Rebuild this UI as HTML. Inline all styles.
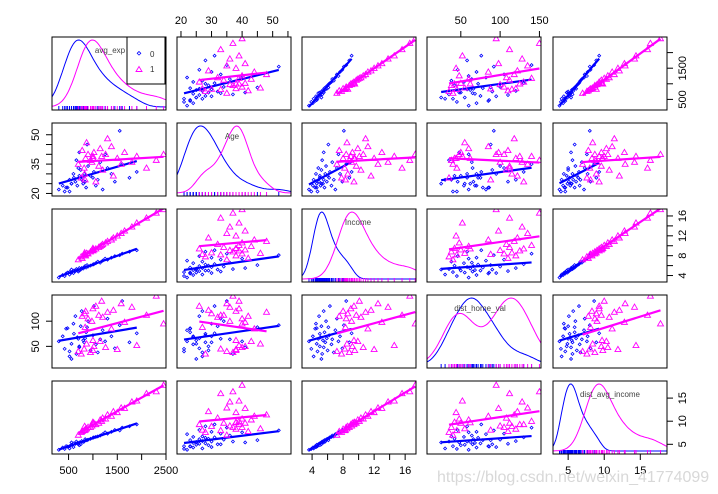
<!DOCTYPE html>
<html><head><meta charset="utf-8"><style>
html,body{margin:0;padding:0;background:#fff;}
svg{display:block;font-family:"Liberation Sans",Arial,sans-serif;}
</style></head><body>
<svg id="chart" width="718" height="494" viewBox="0 0 718 494" xmlns="http://www.w3.org/2000/svg"></svg>
<script>
// ---- data ----
const varNames = ["avg_exp","Age","Income","dist_home_val","dist_avg_income"];
const exp0 = [300,420,380,520,450,600,560,520,700,640,610,720,680,750,660,800,770,720,860,820,900,840,950,880,1000,1020,1060,1150,1100,1200,1300,1250,1380,1450,1550,1600,1750,1900,560,480];
const age0 = [22,21,24,27,23,30,25,21,33,26,28,29,24,32,37,25,27,41,23,30,34,26,29,45,28,31,24,36,27,22,33,40,30,26,52,35,28,31,25,23];
const inc0 = [3.6,3.9,4.1,4.2,4.4,4.5,4.6,4.7,4.8,4.9,5.0,5.0,5.1,5.2,5.3,5.4,5.5,5.5,5.6,5.7,5.8,5.9,6.0,6.1,6.2,6.3,6.5,6.6,6.8,7.0,7.2,7.4,7.6,7.9,8.1,8.4,8.8,9.1,5.2,4.6];
const dhv0 = [60,45,70,30,85,95,55,40,65,110,75,50,68,90,35,62,120,48,78,58,100,66,42,88,72,130,54,64,38,82,105,60,70,46,92,140,58,76,25,86];
const dai0 = [3.8,4.0,4.3,4.1,4.6,4.4,4.9,4.6,5.0,5.1,5.2,4.8,5.3,5.0,5.6,5.5,5.7,5.4,5.9,5.6,6.0,6.1,6.2,5.9,6.4,6.5,6.6,6.9,6.7,7.2,7.3,7.6,7.7,8.1,8.0,8.6,8.9,9.3,5.4,4.5];
const exp1 = [700,780,760,850,820,900,870,830,950,1000,980,1020,1060,1000,1120,1150,1180,1200,1260,1300,1380,1420,1500,1580,1650,1800,1900,2100,2300,2450,840,1000];
const age1 = [35,42,28,38,33,40,46,30,37,39,36,41,26,38,34,43,39,32,40,48,44,29,38,35,41,36,39,33,37,40,27,38];
const inc1 = [7.2,7.5,7.8,8.0,8.2,8.4,8.5,8.6,8.8,9.0,9.1,9.2,9.4,9.5,9.7,9.9,10.1,10.3,10.6,10.9,11.2,11.6,12.0,12.5,13.0,13.8,14.6,15.6,16.6,17.3,8.3,9.4];
const dhv1 = [40,110,35,120,45,105,55,115,38,125,100,50,130,42,112,60,140,108,48,118,85,122,44,135,98,128,52,112,150,95,88,62];
const dai1 = [7.0,7.8,7.6,8.3,8.0,8.7,8.4,8.9,8.7,9.3,9.0,9.6,9.3,9.8,9.6,10.3,10.0,10.7,10.5,11.4,11.1,12.1,11.9,12.9,12.8,14.2,14.4,16.0,16.4,17.8,8.1,9.7];
const ranges = [[160,2500],[18.7,56],[2.7,17.4],[7,152],[2.9,18.7]];
const ticksExp = [500,1000,1500,2000,2500];
const ticksAge = [20,25,30,35,40,45,50,55];
const ticksInc = [4,6,8,10,12,14,16];
const ticksDhv = [50,100,150];
const ticksDai = [5,10,15];

const g0 = [exp0,age0,inc0,dhv0,dai0];
const g1 = [exp1,age1,inc1,dhv1,dai1];
const BLUE="#0000ff", MAG="#ff00ff";
const colX=[52,177,302,427,553], rowY=[37,123,209,295,381], PW=114, PH=73;
const svg=document.getElementById('chart');
const NS="http://www.w3.org/2000/svg";
function mk(tag,attrs,parent){const e=document.createElementNS(NS,tag);for(const k in attrs)e.setAttribute(k,attrs[k]);(parent||svg).appendChild(e);return e;}
function sx(v,c){const r=ranges[c];return colX[c]+(v-r[0])/(r[1]-r[0])*PW;}
function sy(v,r){const g=ranges[r];return rowY[r]+PH-(v-g[0])/(g[1]-g[0])*PH;}
function clip(id,r,c){const cp=mk('clipPath',{id:id});mk('rect',{x:colX[c],y:rowY[r],width:PW,height:PH},cp);}

function lm(x,y){const n=x.length;let mx=0,my=0;for(let i=0;i<n;i++){mx+=x[i];my+=y[i];}mx/=n;my/=n;let sxy=0,sxx=0;for(let i=0;i<n;i++){sxy+=(x[i]-mx)*(y[i]-my);sxx+=(x[i]-mx)**2;}const b=sxy/sxx;return [my-b*mx,b];}
function kde(d,x){const n=d.length;const m=d.reduce((a,b)=>a+b)/n;const sd=Math.sqrt(d.reduce((a,b)=>a+(b-m)**2,0)/(n-1));const h=1.0*sd*Math.pow(n,-0.2);let s=0;for(const v of d)s+=Math.exp(-0.5*((x-v)/h)**2);return s/(n*h*Math.sqrt(2*Math.PI));}

for(let r=0;r<5;r++)for(let c=0;c<5;c++){
  const grp=mk('g',{'clip-path':'url(#cp'+r+c+')'});
  
  
  clip('cp'+r+c,r,c);
  if(r===c){
    const rg=ranges[c];const N=80;
    const d0=[],d1=[];let m0=0,m1=0;
    for(let i=0;i<=N;i++){const x=rg[0]+(rg[1]-rg[0])*i/N;const a=kde(g0[c],x),b=kde(g1[c],x);d0.push([x,a]);d1.push([x,b]);m0=Math.max(m0,a);m1=Math.max(m1,b);}
    [[d0,BLUE,g0[c],'density-group-0',m0],[d1,MAG,g1[c],'density-group-1',m1]].forEach(([d,col,raw,nm,mx])=>{
      const p=d.map((q,i)=>(i?'L':'M')+sx(q[0],c).toFixed(1)+','+(rowY[r]+PH-3-q[1]/mx*(PH-6)).toFixed(1)).join('');
      const pe=mk('path',{d:p,fill:'none',stroke:col,'stroke-width':1},grp);
      
      
      raw.forEach(v=>{const t=mk('line',{x1:sx(v,c),x2:sx(v,c),y1:rowY[r]+PH,y2:rowY[r]+PH-4,stroke:col,'stroke-width':1},grp);
        
        });
    });
    const lx=[110,232,358,480,610][c];
    const lb=mk('text',{x:lx,y:rowY[r]+16,'font-size':8,fill:'#444','text-anchor':'middle'});
    lb.textContent=varNames[c];
    
    
  } else {
    [[g0,BLUE,0],[g1,MAG,1]].forEach(([g,col,k])=>{
      const xs=g[c],ys=g[r];
      xs.forEach((xv,i)=>{
        const px=sx(xv,c),py=sy(ys[i],r);
        let e;
        if(k===0){e=mk('path',{d:`M${px},${py-1.5}L${px+1.5},${py}L${px},${py+1.5}L${px-1.5},${py}Z`,fill:'none',stroke:col,'stroke-width':0.8},grp);}
        else{e=mk('path',{d:`M${px},${py-3}L${px+3},${py+2.2}L${px-3},${py+2.2}Z`,fill:'none',stroke:col,'stroke-width':0.9},grp);}
        
        
      });
      const [a,b]=lm(xs,ys);const x1=Math.min(...xs),x2=Math.max(...xs);
      const ln=mk('line',{x1:sx(x1,c),y1:sy(a+b*x1,r),x2:sx(x2,c),y2:sy(a+b*x2,r),stroke:col,'stroke-width':2.2},grp);
      
      
    });
  }
  const fr=mk('rect',{x:colX[c],y:rowY[r],width:PW,height:PH,fill:'none',stroke:'#000','stroke-width':1});
  
  
}
// legend
const lg=mk('g',{});


mk('rect',{x:127,y:37,width:38,height:47,fill:'#fff',stroke:'#000','stroke-width':1},lg);
mk('path',{d:'M139,51.5L140.8,53.3L139,55.1L137.2,53.3Z',fill:'none',stroke:BLUE,'stroke-width':0.8},lg);
mk('path',{d:'M139,66.5L142,71.5L136,71.5Z',fill:'none',stroke:MAG,'stroke-width':0.9},lg);
const t0=mk('text',{x:150,y:57,'font-size':8,fill:'#333'},lg);t0.textContent='0';
const t1=mk('text',{x:150,y:72,'font-size':8,fill:'#333'},lg);t1.textContent='1';

// axes
function axis(kind,idx,ticks,labels){
  const g=mk('g',{});
  
  
  ticks.forEach(v=>{
    const lab=labels.includes(v);
    if(kind==='bottom'||kind==='top'){
      const x=sx(v,idx);const y0=kind==='bottom'?rowY[4]+PH:rowY[0];const d=kind==='bottom'?1:-1;
      mk('line',{x1:x,x2:x,y1:y0,y2:y0+d*6,stroke:'#000'},g);
      if(lab){const t=mk('text',{x:x,y:kind==='bottom'?y0+20:y0-13,'font-size':11,'text-anchor':'middle'},g);t.textContent=v;}
    } else {
      const y=sy(v,idx);const x0=kind==='right'?colX[4]+PW:colX[0];const d=kind==='right'?1:-1;
      mk('line',{x1:x0,x2:x0+d*6,y1:y,y2:y,stroke:'#000'},g);
      if(lab){const tx=x0+d*16;const t=mk('text',{x:tx,y:y,'font-size':11,'text-anchor':'middle',transform:`rotate(-90 ${tx} ${y})`,'dominant-baseline':'middle'},g);t.textContent=v;}
    }
  });
}
axis('bottom',0,ticksExp,[500,1500,2500]);
axis('bottom',2,ticksInc,[4,8,12,16]);
axis('bottom',4,ticksDai,[5,10,15]);
axis('top',1,ticksAge,[20,30,40,50]);
axis('top',3,ticksDhv,[50,100,150]);
axis('right',0,[500,1000,1500,2000],[500,1500]);
axis('right',2,ticksInc,[4,8,12,16]);
axis('right',4,ticksDai,[5,10,15]);
axis('left',1,[20,25,30,35,40,45,50],[20,35,50]);
axis('left',3,[50,100],[50,100]);

const wm=mk('text',{x:437,y:482,'font-size':16,fill:'#d8d8d8'});
wm.textContent='https://blog.csdn.net/weixin_41774099';


</script>
</body></html>
